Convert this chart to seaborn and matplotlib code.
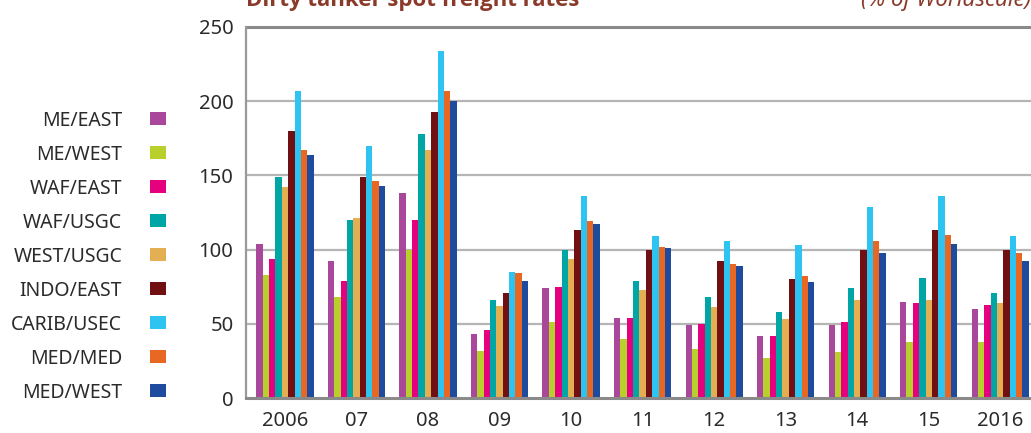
import matplotlib
matplotlib.use("Agg")
import matplotlib.pyplot as plt
import pandas as pd
import seaborn as sns

# ====== DATA (% of Worldscale) ======
YEARS = ["2006", "07", "08", "09", "10", "11", "12", "13", "14", "15", "2016"]
ROUTES = ["ME/EAST", "ME/WEST", "WAF/EAST", "WAF/USGC", "WEST/USGC",
          "INDO/EAST", "CARIB/USEC", "MED/MED", "MED/WEST"]

me_east = [104, 92, 138, 43, 74, 54, 49, 42, 49, 65, 60]
me_west = [83, 68, 100, 32, 51, 40, 33, 27, 31, 38, 38]
waf_east = [94, 79, 120, 46, 75, 54, 50, 42, 51, 64, 63]
waf_usgc = [149, 120, 178, 66, 100, 79, 68, 58, 74, 81, 71]
west_usgc = [142, 121, 167, 62, 94, 73, 61, 53, 66, 66, 64]
indo_east = [180, 149, 193, 71, 113, 100, 92, 80, 100, 113, 100]
carib_usec = [207, 170, 234, 85, 136, 109, 106, 103, 129, 136, 109]
med_med = [167, 146, 207, 84, 119, 102, 90, 82, 106, 110, 98]
med_west = [164, 143, 200, 79, 117, 101, 89, 78, 98, 104, 92]

COLORS = ["#a9479a", "#b8cf2c", "#e5007e", "#00a6a6", "#e4ae52",
          "#701012", "#2ec4f2", "#e86722", "#1f4b9e"]
# ====================================

series = [me_east, me_west, waf_east, waf_usgc, west_usgc,
          indo_east, carib_usec, med_med, med_west]
rows = []
for route, vals in zip(ROUTES, series):
    for yr, v in zip(YEARS, vals):
        rows.append({"Year": yr, "Route": route, "Rate": v})
df = pd.DataFrame(rows)

sns.set_theme(style="white")
plt.rcParams["font.family"] = ["Noto Sans", "DejaVu Sans"]

fig = plt.figure(figsize=(10.31, 4.33), dpi=100)
ax = fig.add_axes([246 / 1031, 35 / 433, 1 - 246 / 1031, 371 / 433])

sns.barplot(data=df, x="Year", y="Rate", hue="Route", order=YEARS,
            hue_order=ROUTES, palette=COLORS, saturation=1, width=0.8,
            linewidth=0, errorbar=None, ax=ax)

ax.set_ylim(0, 250)
ax.set_xlim(-0.545, 10.43)
ax.set_yticks(range(0, 251, 50))
ax.set_xlabel("")
ax.set_ylabel("")
ax.set_axisbelow(True)
for v in range(50, 201, 50):
    ax.axhline(v, color="#b5b5b5", lw=1.6, zorder=0)
ax.axhline(250, color="#8a8a8a", lw=2.2, zorder=0, clip_on=False)

for side in ["top", "right"]:
    ax.spines[side].set_visible(False)
ax.spines["left"].set_color("#9a9a9a")
ax.spines["left"].set_linewidth(1.6)
ax.spines["bottom"].set_color("#8a8a8a")
ax.spines["bottom"].set_linewidth(2.2)

ax.tick_params(axis="both", length=0, labelsize=14.5, colors="#2b2b2b")
ax.tick_params(axis="y", pad=9)
ax.tick_params(axis="x", pad=9)

# legend on the left, labels before the squares
handles, labels = ax.get_legend_handles_labels()
ax.get_legend().remove()
fig.legend(handles, labels, loc="center right",
           bbox_to_anchor=(166 / 1031, (433 - 256.5) / 433),
           frameon=False, markerfirst=False, fontsize=14,
           handlelength=0.8, handleheight=0.65, handletextpad=1.45,
           labelspacing=0.72, borderpad=0, borderaxespad=0,
           labelcolor="#2b2b2b")

# chart heading, cut at the top edge as in the source
fig.text(246 / 1031, 1 - 6 / 433, "Dirty tanker spot freight rates",
         fontsize=16, fontweight="bold", color="#8b3a2a",
         family=["Open Sans", "DejaVu Sans"], ha="left", va="baseline")
fig.text(1.0, 1 - 6 / 433, "(% of Worldscale)", fontsize=16,
         fontstyle="italic", color="#8b3a2a", ha="right", va="baseline")

fig.savefig("out.png", dpi=100)
